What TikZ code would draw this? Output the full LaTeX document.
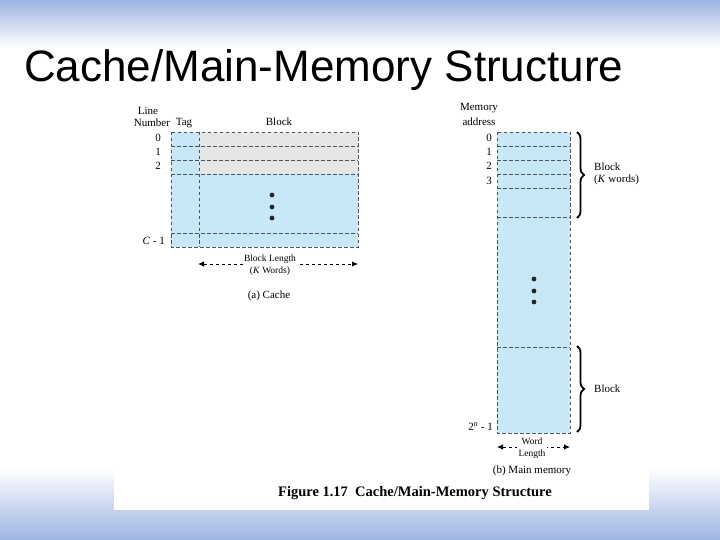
\documentclass[tikz,border=0pt]{standalone}
\usepackage{fontspec}
\setmainfont{Liberation Serif}
\newfontfamily\titlefont{Liberation Sans}
\usetikzlibrary{arrows.meta,decorations.pathreplacing}
\definecolor{cellblue}{HTML}{C8E8F8}
\definecolor{cellgrey}{HTML}{E6E6E6}
\definecolor{dashcol}{HTML}{4A5560}
\definecolor{bgblue}{HTML}{9DB4E2}
\begin{document}
\begin{tikzpicture}[x=1pt,y=-1pt,
  dashln/.style={draw=dashcol,line width=0.9pt,dash pattern=on 3.5pt off 2.5pt},
  lbl/.style={font=\fontsize{11}{12}\selectfont,inner sep=0pt},
  dimarrow/.style={draw=black,line width=0.8pt,dash pattern=on 3.5pt off 2.5pt,{Latex[length=6pt,width=5.5pt]}-{Latex[length=6pt,width=5.5pt]}},
  bracestyle/.style={draw=black,line width=1.8pt,decorate,decoration={brace,amplitude=7pt}},
  dotstyle/.style={fill=black!85}
]
\useasboundingbox (0,0) rectangle (720,540);
\fill[white] (0,0) rectangle (720,540);
\shade[top color=bgblue,bottom color=white] (0,0) rectangle (720,48);
\shade[top color=white,bottom color=bgblue] (0,468) rectangle (720,540);
\fill[white] (114,100) rectangle (649,510);

% title
\node[anchor=base west,inner sep=0pt,font=\titlefont\fontsize{44}{50}\selectfont] (title) at (24,82) {Cache/Main-Memory Structure};

% ---- cache ----
\fill[cellblue] (171,132) rectangle (358,247);
\fill[cellgrey] (199,132) rectangle (358,174);
\draw[dashln] (171,132) rectangle (358,247);
\foreach \yy in {146,160,174,233} \draw[dashln] (171,\yy) -- (358,\yy);
\draw[dashln] (199,132) -- (199,247);
\foreach \yy in {195,207,218} \fill[dotstyle] (272,\yy) circle (2.4);

\node[lbl] (lineL) at (148,111) {Line};
\node[lbl] (numL) at (152,123) {Number};
\node[lbl] (tagL) at (184,123) {Tag};
\node[lbl] (blockL) at (279,122) {Block};
\node[lbl] (c0) at (158,138) {0};
\node[lbl] (c1) at (158,152) {1};
\node[lbl] (c2) at (158,166) {2};
\node[lbl,anchor=east] (cc) at (165,241) {\textit{C} - 1};

\coordinate (blL) at (198,264);
\coordinate (blR) at (358,264);
\draw[dimarrow] (blL) -- (blR);
\node[lbl,fill=white,align=center,font=\fontsize{9.5}{12}\selectfont,inner sep=1.5pt] (blen) at (270,265) {Block Length\\(\textit{K} Words)};
\node[lbl] (capa) at (269,296) {(a) Cache};

% ---- main memory ----
\fill[cellblue] (497,132) rectangle (570,433);
\draw[dashln] (497,132) rectangle (570,433);
\foreach \yy in {146,160,174,188,217,347} \draw[dashln] (497,\yy) -- (570,\yy);
\foreach \yy in {279,291,302} \fill[dotstyle] (534,\yy) circle (2.4);

\node[lbl] (memL) at (479,108) {Memory};
\node[lbl] (addrL) at (479,122) {address};
\node[lbl] (m0) at (489,138) {0};
\node[lbl] (m1) at (489,152) {1};
\node[lbl] (m2) at (489,166) {2};
\node[lbl] (m3) at (489,181) {3};
\node[lbl,anchor=east] (mn) at (493,427) {2\textsuperscript{\textit{n}} - 1};

\coordinate (br1t) at (577,132);
\coordinate (br1b) at (577,218);
\draw[bracestyle] (br1t) -- (br1b);
\node[lbl,anchor=west,align=left] (blk1) at (594,174) {Block\\(\textit{K} words)};
\coordinate (br2t) at (577,346);
\coordinate (br2b) at (577,432);
\draw[bracestyle] (br2t) -- (br2b);
\node[lbl,anchor=west] (blk2) at (594,389) {Block};

\coordinate (wlL) at (497,447);
\coordinate (wlR) at (570,447);
\draw[dimarrow] (wlL) -- (wlR);
\node[lbl,fill=white,align=center,font=\fontsize{9.5}{12.5}\selectfont,inner sep=1.5pt] (wlen) at (532,448) {Word\\Length};
\node[lbl] (capb) at (532,471) {(b) Main memory};

\node[inner sep=0pt,font=\bfseries\fontsize{14.5}{16}\selectfont] (fig) at (415,493) {Figure 1.17\ \ Cache/Main-Memory Structure};
\end{tikzpicture}
\end{document}
